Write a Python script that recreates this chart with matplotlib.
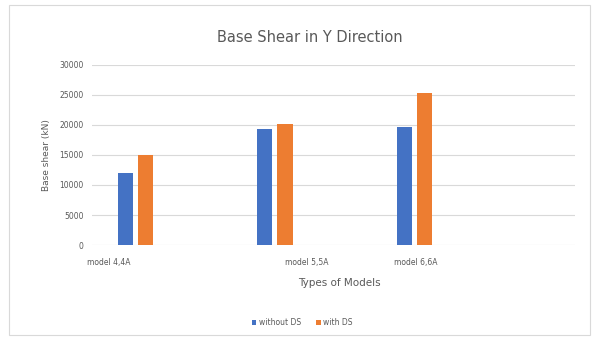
import matplotlib
matplotlib.use("Agg")
import matplotlib.pyplot as plt
import numpy as np
from matplotlib.patches import Rectangle

# Base shear per model pair (kN)
models = ["model 4,4A", "model 5,5A", "model 6,6A"]
without_ds = [12000, 19300, 19600]
with_ds = [15000, 20100, 25400]
series_names = ["without DS", "with DS"]
y_ticks = [0, 5000, 10000, 15000, 20000, 25000, 30000]

BLUE = "#4472C4"
ORANGE = "#ED7D31"
TXT = "#595959"
GRID = "#D9D9D9"

fig = plt.figure(figsize=(5.98, 3.38), dpi=100)
fig.patch.set_facecolor("white")
ax = fig.add_axes([0.154, 0.275, 0.807, 0.533])

x = np.arange(len(models))
w = 0.11
ax.bar(x - 0.072, without_ds, width=w, color=BLUE, label=series_names[0], zorder=3)
ax.bar(x + 0.072, with_ds, width=w, color=ORANGE, label=series_names[1], zorder=3)

ax.set_xlim(-0.31, 3.15)
ax.set_ylim(0, 30000)
ax.set_yticks(y_ticks)
ax.set_yticklabels([str(v) for v in y_ticks], fontsize=5.5, color=TXT)
ax.yaxis.grid(True, color=GRID, lw=0.8, zorder=0)
ax.tick_params(axis="both", length=0, pad=6)

# category labels sit slightly off the bar groups
ax.set_xticks(x + np.array([-0.19, 0.23, 0.01]))
ax.set_xticklabels(models, fontsize=5.5, color=TXT)
ax.tick_params(axis="x", pad=9)

for s in ax.spines.values():
    s.set_visible(False)

ax.set_ylabel("Base shear (kN)", fontsize=6.5, color=TXT, labelpad=6)
fig.text(0.568, 0.163, "Types of Models", fontsize=7.5, color=TXT, ha="center", va="center")
fig.text(0.518, 0.89, "Base Shear in Y Direction", fontsize=10.5, color=TXT, ha="center", va="center")

fig.legend(loc="center", bbox_to_anchor=(0.505, 0.045), ncol=2, frameon=False,
           fontsize=5.5, labelcolor=TXT, handlelength=0.6, handleheight=0.6,
           handletextpad=0.3, columnspacing=2.0)

# light outer chart frame
fig.patches.append(Rectangle((0.015, 0.01), 0.972, 0.975, transform=fig.transFigure,
                             fill=False, edgecolor=GRID, lw=0.8))

fig.savefig("out.png", dpi=100)
